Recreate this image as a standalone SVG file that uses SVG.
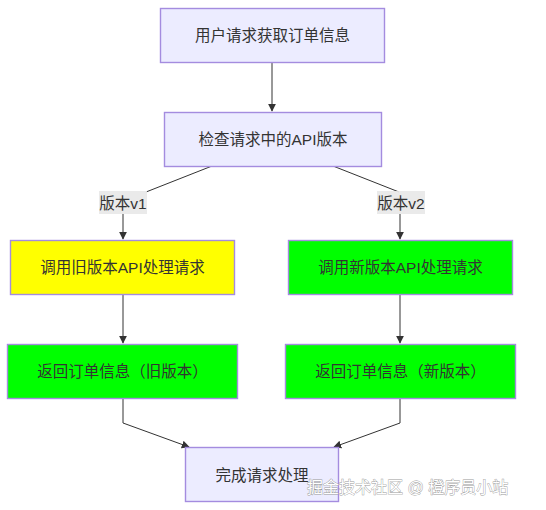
<svg xmlns="http://www.w3.org/2000/svg" width="546" height="510" viewBox="0 0 546 510">
<defs>
<style>
.node rect{stroke:#A48CDF;stroke-width:1.4}
.def{fill:#ECECFF}
.yel{fill:#FFFF00}
.grn{fill:#00FF00}
text{font-family:"Liberation Sans","Noto Sans CJK SC",sans-serif;font-size:15.5px;fill:#333;text-anchor:middle;dominant-baseline:central}
.edge{fill:none;stroke:#333;stroke-width:1}
.lbl rect{fill:#E8E8E8;opacity:0.9}
.wm{font-size:16px;fill:#fff;stroke:#999;stroke-width:0.8;paint-order:stroke;text-anchor:start}
</style>
<marker id="arr" viewBox="0 0 10 10" refX="9" refY="5" markerWidth="8" markerHeight="8" markerUnits="userSpaceOnUse" orient="auto">
<path d="M0,0 L10,5 L0,10 z" fill="#333"/>
</marker>
</defs>
<rect width="546" height="510" fill="#fff"/>
<g id="edges">
<path class="edge" d="M272,62 L272,111" marker-end="url(#arr)"/>
<path class="edge" d="M212,166 L146,192"/>
<path class="edge" d="M123,214 L123,239" marker-end="url(#arr)"/>
<path class="edge" d="M333,166 L399,192"/>
<path class="edge" d="M400,214 L400,239" marker-end="url(#arr)"/>
<path class="edge" d="M123,294 L123,343" marker-end="url(#arr)"/>
<path class="edge" d="M400,294 L400,343" marker-end="url(#arr)"/>
<path class="edge" d="M123,398 L123,423 L189,447" marker-end="url(#arr)"/>
<path class="edge" d="M400,398 L400,423 L334,447" marker-end="url(#arr)"/>
</g>
<g id="label-v1" class="lbl"><rect x="99" y="191" width="48" height="23"/><text x="123" y="203">版本v1</text></g>
<g id="label-v2" class="lbl"><rect x="377" y="191" width="48" height="23"/><text x="401" y="203">版本v2</text></g>
<g id="n1" class="node"><rect class="def" x="160.5" y="8.5" width="224" height="54"/><text x="272.5" y="35.5">用户请求获取订单信息</text></g>
<g id="n2" class="node"><rect class="def" x="164.5" y="112.5" width="217" height="54"/><text x="273" y="139.5">检查请求中的API版本</text></g>
<g id="n3" class="node"><rect class="yel" x="10.5" y="240.5" width="224" height="54"/><text x="122.5" y="267.5">调用旧版本API处理请求</text></g>
<g id="n4" class="node"><rect class="grn" x="288.5" y="240.5" width="224" height="54"/><text x="400.5" y="267.5">调用新版本API处理请求</text></g>
<g id="n5" class="node"><rect class="grn" x="7.5" y="344.5" width="230" height="54"/><text x="122.5" y="371.5">返回订单信息（旧版本）</text></g>
<g id="n6" class="node"><rect class="grn" x="285.5" y="344.5" width="230" height="54"/><text x="400.5" y="371.5">返回订单信息（新版本）</text></g>
<g id="n7" class="node"><rect class="def" x="185.5" y="447.5" width="153" height="54"/><text x="262" y="475">完成请求处理</text></g>
<text class="wm" x="307" y="487">掘金技术社区 @ 橙序员小站</text>
</svg>
